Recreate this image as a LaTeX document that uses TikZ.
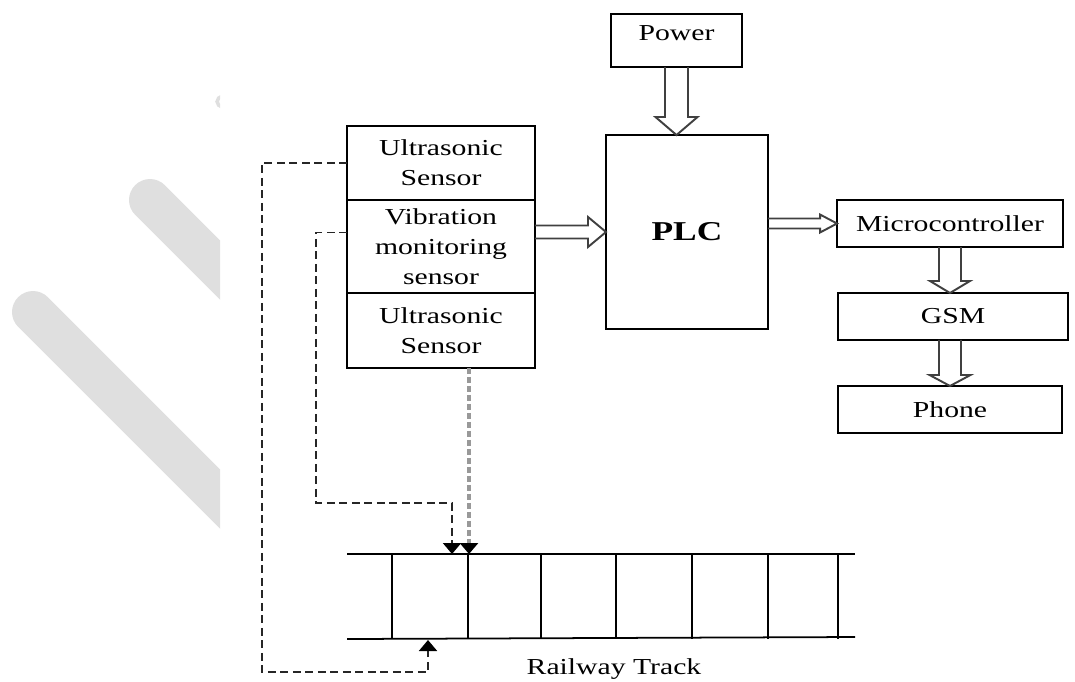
\documentclass[tikz,border=0pt]{standalone}
\usepackage{fontspec}
\setmainfont{Liberation Serif}[FakeStretch=1.3]
\usetikzlibrary{arrows.meta, positioning, calc}

% hollow block arrow: from, to, half shaft, half head, head length
\newcommand{\hollowarrow}[5]{%
  \coordinate (ha) at ($(#2)!#5!(#1)$);
  \draw[hollow] ($(#1)!#3!90:(#2)$) -- ($(ha)!#3!90:(#2)$) -- ($(ha)!#4!90:(#2)$) -- (#2)
    -- ($(ha)!#4!-90:(#2)$) -- ($(ha)!#3!-90:(#2)$) -- ($(#1)!#3!-90:(#2)$);
}

\begin{document}
\begin{tikzpicture}[x=0.02cm, y=-0.02cm,
  box/.style={draw, line width=1.1pt, outer sep=0pt, inner sep=2pt, align=center, font=\fontsize{13}{17}\selectfont},
  hollow/.style={draw=black!75, line width=1.1pt, line join=miter},
  sig/.style={draw=black!85, line width=1.1pt, dash pattern=on 0.16cm off 0.09cm},
  probe/.style={draw=black!40, line width=2.4pt, dash pattern=on 0.12cm off 0.06cm},
  rail/.style={line width=1pt},
  tip/.style={-{Triangle[width=0.36cm, length=0.22cm, black]}},
  wmark/.style={gray!25, line width=0.84cm, line cap=round}]
\useasboundingbox (0,0) rectangle (1075,681);
% watermark
\begin{scope}
\clip (0,0) rectangle (220,681);
\draw[wmark] (150,200) -- (320,370);
\draw[wmark] (33,312) -- (260,539);
\draw[gray!25, line width=2pt] (222,107) arc (100:175:6) arc (185:260:6);
\end{scope}
% sensors
\node[box, minimum width=3.76cm, minimum height=1.48cm] (us1) at (441,163) {Ultrasonic\\Sensor};
\node[box, minimum width=3.76cm, minimum height=1.86cm, below=0pt of us1] (us2) {Vibration\\monitoring\\sensor};
\node[box, minimum width=3.76cm, minimum height=1.5cm, below=0pt of us2] (us3) {Ultrasonic\\Sensor};
% control
\node[box, minimum width=2.62cm, minimum height=1.06cm, text height=0.3cm, text depth=0.32cm] (pwr) at (676.5,40.5) {Power};
\node[box, minimum width=3.24cm, minimum height=3.88cm, font=\fontsize{15.5}{18}\selectfont\bfseries] (plc) at (687,232) {PLC};
\node[box, minimum width=4.52cm, minimum height=0.94cm] (mc) at (950,223.5) {Microcontroller};
\node[box, minimum width=4.6cm, minimum height=0.94cm, below=0.92cm of mc, xshift=0.06cm] (gsm) {GSM};
\node[box, minimum width=4.48cm, minimum height=0.94cm, below=0.92cm of gsm, xshift=-0.06cm] (ph) {Phone};
% block arrows
\coordinate (pa) at (pwr.south |- plc.north);
\coordinate (sa) at (plc.west -| us2.east);
\coordinate (ma) at (mc.west -| plc.east);
\coordinate (ga) at (mc.south |- gsm.north);
\coordinate (fa) at (ph.north |- gsm.south);
\hollowarrow{pwr.south}{pa}{0.23cm}{0.42cm}{0.36cm}
\hollowarrow{sa}{plc.west}{0.13cm}{0.3cm}{0.36cm}
\hollowarrow{ma}{mc.west}{0.1cm}{0.18cm}{0.34cm}
\hollowarrow{mc.south}{ga}{0.22cm}{0.4cm}{0.24cm}
\hollowarrow{fa}{ph.north}{0.22cm}{0.41cm}{0.22cm}
% railway track
\coordinate (tl) at (347,554);
\coordinate (tr) at (855,554);
\coordinate (bl) at (347,639);
\coordinate (br) at (855,637);
\draw[rail] (tl) -- (tr);
\draw[rail] (bl) -- (br);
\foreach \x in {392,468,541,616,692,768,838}
  \draw[rail] (\x,554) -- (\x,638.5);
\node[font=\fontsize{13}{17}\selectfont, anchor=base] (trk) at (614,674) {Railway Track};
% sensor links
\coordinate (hitA) at (428,640);
\coordinate (hitB) at (452,554);
\coordinate (hitC) at (469,554);
\draw[sig, tip] (us1.west) -- ++(-85,0) |- ($(hitA)+(0,32)$) -- (hitA);
\draw[sig, tip] ($(us2.west)+(0,-14)$) -- ++(-31,0) |- ($(hitB)+(0,-51)$) -- (hitB);
\draw[probe, tip] ($(us3.south)+(28,0)$) -- (hitC);
\end{tikzpicture}
\end{document}
